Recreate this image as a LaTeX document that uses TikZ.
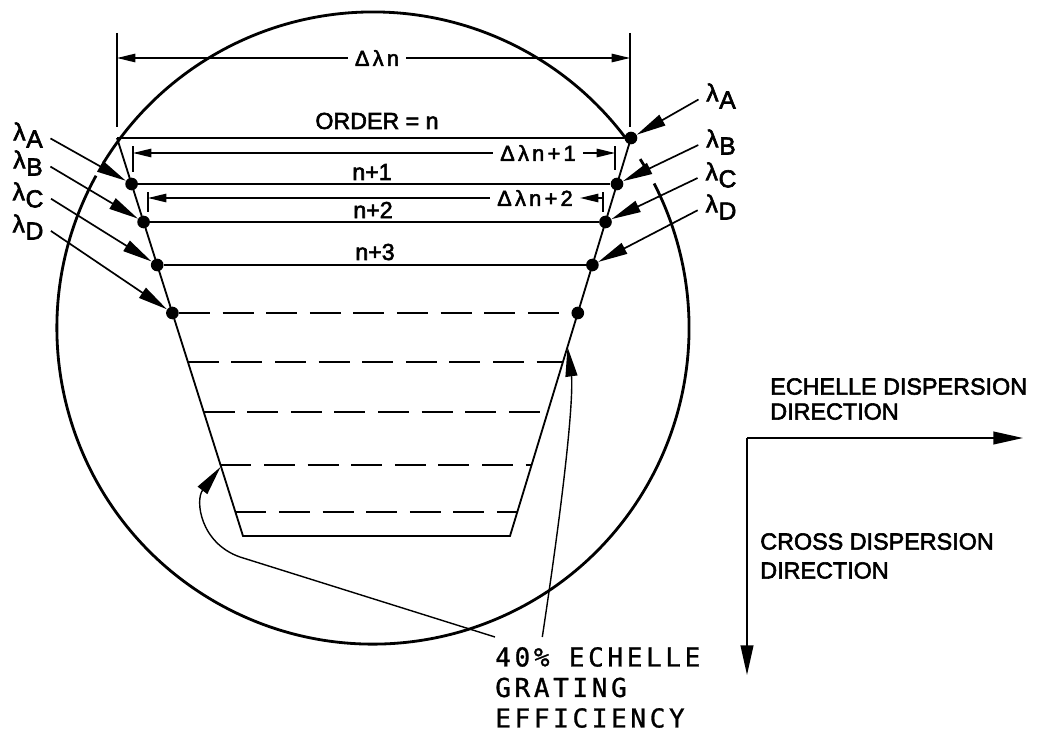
\documentclass[tikz,border=0pt]{standalone}
\usepackage{fontspec}
\setmainfont{Liberation Sans}[FakeBold=2.5]
\newfontfamily\letreiro{DejaVu Sans Mono}[LetterSpace=14, FakeBold=1]
\newfontfamily\cotafonte{Liberation Sans}[LetterSpace=15, FakeBold=2.5]
\usetikzlibrary{arrows.meta, calc}
\newcommand{\lsub}[1]{λ\kern0.5pt\raisebox{-0.55ex}{#1}}

\begin{document}
\begin{tikzpicture}[
    x=0.025cm, y=-0.025cm,
    linha/.style={line width=1.3pt},
    tracejada/.style={line width=1.3pt, dash pattern=on 22pt off 9pt},
    ponto/.style={circle, fill=black, inner sep=0pt, minimum size=9pt},
    rotulo/.style={font=\fontsize{16.5}{19}\selectfont, inner sep=1pt},
    lambda/.style={font=\fontsize{17.5}{20}\selectfont, inner sep=1pt},
    cotatexto/.style={font=\cotafonte\fontsize{15.5}{18}\selectfont, inner sep=5pt},
    direcao/.style={font=\fontsize{16.6}{17.8}\selectfont, inner sep=0pt, anchor=north west, align=left},
    flecha/.style={-{Triangle[length=21pt,width=8.5pt]}, line width=1.2pt},
    cota/.style={-{Triangle[length=13pt,width=6pt]}, line width=1pt},
    eixo/.style={-{Triangle[length=21pt,width=9pt]}, line width=1.3pt}
]
\useasboundingbox (0,0) rectangle (1039,736);

% campo
\coordinate (centro) at (373,328);
\draw[line width=2pt] (centro) ++(36.1:7.9cm) arc[start angle=36.1, end angle=148.5, radius=7.9cm];
\draw[line width=2pt] (centro) ++(151.2:7.9cm) arc[start angle=151.2, end angle=387.2, radius=7.9cm];
\draw[line width=2pt] (centro) ++(29.4:7.9cm) arc[start angle=29.4, end angle=32.3, radius=7.9cm];

% ordens
\coordinate (te) at (117,138);
\coordinate (be) at (243,536);
\coordinate (bd) at (510,536);
\node[ponto] (d0) at (631,138) {};
\node[ponto] (e1) at (131.6,184) {};
\node[ponto] (d1) at (617,184) {};
\node[ponto] (e2) at (143.6,222) {};
\node[ponto] (d2) at (605.5,222) {};
\node[ponto] (e3) at (157.2,265) {};
\node[ponto] (d3) at (592.4,265) {};
\node[ponto] (e4) at (172.4,313) {};
\node[ponto] (d4) at (577.8,313) {};
\coordinate (e5) at (187.9,362);
\coordinate (d5) at (562.9,362);
\coordinate (e6) at (203.7,412);
\coordinate (d6) at (547.7,412);
\coordinate (e7) at (220.5,465);
\coordinate (d7) at (531.6,465);
\coordinate (e8) at (235.4,512);
\coordinate (d8) at (517.3,512);

\draw[linha] (te) -- (be) -- (bd) -- (d0.center);
\draw[linha] (te) -- (d0);
\draw[linha] (e1) -- (d1);
\draw[linha] (e2) -- (d2);
\draw[linha] (e3) -- (d3);
\draw[tracejada] (e4) -- (d4);
\draw[tracejada] (e5) -- (d5);
\draw[tracejada] (e6) -- (d6);
\draw[tracejada] (e7) -- (d7);
\draw[tracejada] (e8) -- (d8);

\node[rotulo] (ordem) at (377,121) {ORDER = n};
\node[rotulo] (n1) at (372,172) {n+1};
\node[rotulo] (n2) at (373,210) {n+2};
\node[rotulo] (n3) at (375,252) {n+3};

% cotas
\coordinate (cnE) at (117,58);
\coordinate (cnD) at (630,58);
\node[cotatexto] (cn) at (377,58) {Δλn};
\draw[cota] (cn) -- (cnE);
\draw[cota] (cn) -- (cnD);
\draw[linha] ($(cnE)+(0,-25)$) -- ($(cnE)+(0,69)$);
\draw[linha] ($(cnD)+(0,-25)$) -- ($(cnD)+(0,69)$);

\coordinate (c1E) at (133,153);
\coordinate (c1D) at (615,153);
\node[cotatexto] (c1) at (538,153) {Δλn+1};
\draw[cota] (c1) -- (c1E);
\draw[cota] (c1) -- (c1D);
\draw[linha] ($(c1E)+(0,-7)$) -- ($(c1E)+(0,19)$);
\draw[linha] ($(c1D)+(0,-7)$) -- ($(c1D)+(0,17)$);

\coordinate (c2E) at (148,198);
\coordinate (c2D) at (603,198);
\node[cotatexto] (c2) at (535,198) {Δλn+2};
\draw[cota] (c2) -- (c2E);
\draw[cota] (c2D) -- (c2);
\draw[linha] ($(c2E)+(0,-6)$) -- ($(c2E)+(0,14)$);
\draw[linha] ($(c2D)+(0,-6)$) -- ($(c2D)+(0,14)$);

% comprimentos de onda
\node[lambda] (lA) at (28,135) {\lsub{A}};
\node[lambda] (lB) at (28,163) {\lsub{B}};
\node[lambda] (lC) at (28,195) {\lsub{C}};
\node[lambda] (lD) at (28,227) {\lsub{D}};
\node[lambda] (rA) at (721,96) {\lsub{A}};
\node[lambda] (rB) at (721,142) {\lsub{B}};
\node[lambda] (rC) at (721,175) {\lsub{C}};
\node[lambda] (rD) at (721,207) {\lsub{D}};

\draw[flecha, shorten <=5pt] (lA.east) -- (e1);
\draw[flecha, shorten <=5pt] (lB.east) -- (e2);
\draw[flecha, shorten <=5pt] (lC.east) -- (e3);
\draw[flecha, shorten <=5pt] (lD.east) -- (e4);
\draw[flecha, shorten <=5pt] (rA.west) -- (d0);
\draw[flecha, shorten <=5pt] (rB.west) -- (d1);
\draw[flecha, shorten <=5pt] (rC.west) -- (d2);
\draw[flecha, shorten <=5pt] (rD.west) -- (d3);

% eficiencia
\node[font=\letreiro\fontsize{18.5}{21.7}\selectfont, anchor=north west, align=left,
      inner xsep=0pt, inner ysep=7pt] (efic) at (495,637) {40\% ECHELLE\\GRATING\\EFFICIENCY};
\coordinate (q1) at (220.5,467);
\coordinate (q2) at (567.5,347);
\draw[flecha, line width=1pt] (efic.north west) -- (240,557) .. controls (200,543) and (195,500) .. (q1);
\draw[flecha, line width=1pt] ($(efic.north west)!0.23!(efic.north east)$) .. controls (575,420) and (572,380) .. (q2);

% direcoes
\coordinate (origem) at (747,438);
\coordinate (fimE) at (1023,438);
\coordinate (fimC) at (747,675);
\draw[eixo] (origem) -- (fimE);
\draw[eixo] (origem) -- (fimC);
\node[direcao] (txE) at (770,378) {ECHELLE DISPERSION\\DIRECTION};
\node[direcao, font=\fontsize{16.6}{20.6}\selectfont] (txC) at (760,533) {CROSS DISPERSION\\DIRECTION};

\end{tikzpicture}
\end{document}
